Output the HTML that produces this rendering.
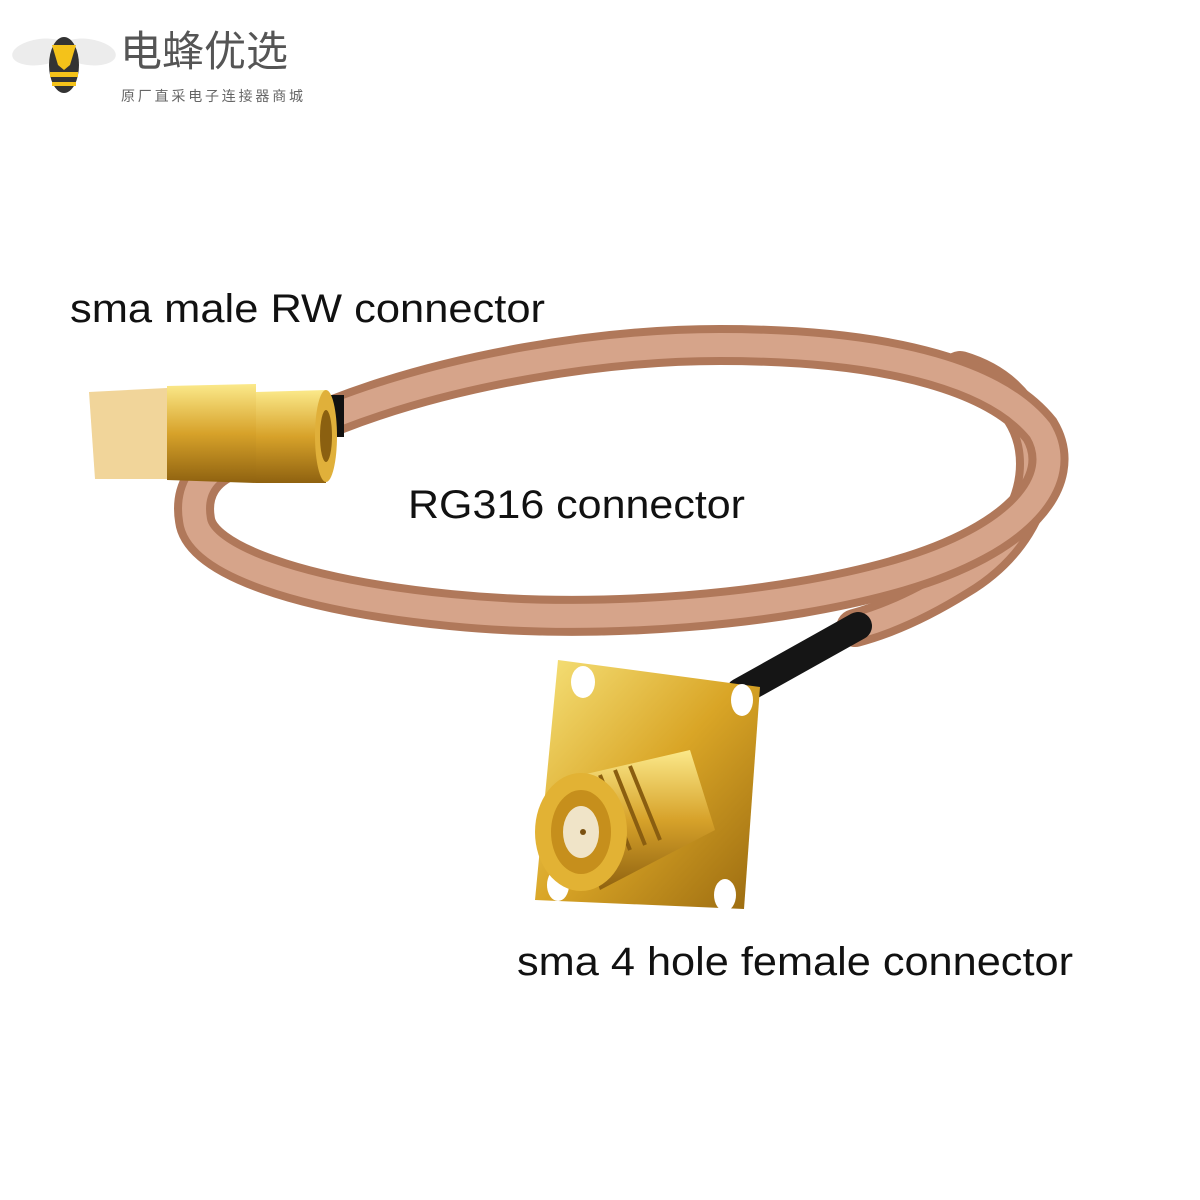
<!DOCTYPE html>
<html><head><meta charset="utf-8"><style>
body{margin:0;background:#fff;}
svg{display:block}
text{font-family:"Liberation Sans","Noto Sans CJK SC",sans-serif}
</style></head><body>
<svg width="1200" height="1200" viewBox="0 0 1200 1200" xmlns="http://www.w3.org/2000/svg">
<defs>
<linearGradient id="gold" x1="0" y1="0" x2="1" y2="1">
<stop offset="0" stop-color="#f6e27a"/><stop offset="0.5" stop-color="#d9a526"/><stop offset="1" stop-color="#9a6a10"/></linearGradient>
<linearGradient id="goldv" x1="0" y1="0" x2="0" y2="1">
<stop offset="0" stop-color="#fbe98a"/><stop offset="0.5" stop-color="#d7a22a"/><stop offset="1" stop-color="#8f6210"/></linearGradient>
</defs>
<!-- logo -->
<ellipse cx="40" cy="52" rx="28" ry="13" fill="#ececec" transform="rotate(-8 40 52)"/>
<ellipse cx="88" cy="52" rx="28" ry="13" fill="#ececec" transform="rotate(8 88 52)"/>
<ellipse cx="64" cy="65" rx="15" ry="28" fill="#333"/>
<path d="M52 45 L76 45 L70 65 L64 70 L58 65Z" fill="#f4c21a"/>
<rect x="50" y="72" width="28" height="5" fill="#f4c21a"/>
<rect x="52" y="82" width="24" height="4" fill="#f4c21a"/>
<text x="120" y="66" font-size="42" fill="#555">电蜂优选</text>
<text x="121" y="101" font-size="14" fill="#666" textLength="182">原厂直采电子连接器商城</text>
<!-- cables -->
<g fill="none" stroke-linecap="round">
<path d="M960,370 C1060,400 1060,520 960,580 C920,605 885,620 855,628" stroke="#b0785a" stroke-width="38"/>
<path d="M960,370 C1060,400 1060,520 960,580 C920,605 885,620 855,628" stroke="#d6a48a" stroke-width="22"/>
<path d="M858,626 L740,692" stroke="#151515" stroke-width="28"/>
<path d="M335,415 C450,370 600,345 720,345 C900,345 1000,380 1040,430 C1070,480 1020,540 900,575 C780,610 600,625 450,610 C300,595 200,560 195,520 C190,490 205,470 230,460" stroke="#b0785a" stroke-width="40"/>
<path d="M335,415 C450,370 600,345 720,345 C900,345 1000,380 1040,430 C1070,480 1020,540 900,575 C780,610 600,625 450,610 C300,595 200,560 195,520 C190,490 205,470 230,460" stroke="#d6a48a" stroke-width="24"/>
</g>
<!-- labels -->
<text x="70" y="322" font-size="40" fill="#111" textLength="475" lengthAdjust="spacingAndGlyphs">sma male RW connector</text>
<text x="408" y="518" font-size="40" fill="#111" textLength="337" lengthAdjust="spacingAndGlyphs">RG316 connector</text>
<text x="517" y="975" font-size="40" fill="#111" textLength="556" lengthAdjust="spacingAndGlyphs">sma 4 hole female connector</text>
<!-- male connector -->
<rect x="322" y="395" width="22" height="42" fill="#111"/>
<path d="M89 392 L167 388 L167 479 L95 479Z" fill="#f1d59a"/>
<path d="M167 386 L256 384 L256 483 L167 480Z" fill="url(#goldv)"/>
<path d="M256 392 L326 390 L326 483 L256 483Z" fill="url(#goldv)"/>
<ellipse cx="326" cy="436" rx="11" ry="46" fill="#e0b03a"/>
<ellipse cx="326" cy="436" rx="6" ry="26" fill="#8b6010"/>
<!-- flange -->
<path d="M558,660 L760,687 L744,909 L535,900Z" fill="url(#gold)"/>
<ellipse cx="583" cy="682" rx="12" ry="16" fill="#fff"/>
<ellipse cx="742" cy="700" rx="11" ry="16" fill="#fff"/>
<ellipse cx="558" cy="885" rx="11" ry="16" fill="#fff"/>
<ellipse cx="725" cy="895" rx="11" ry="16" fill="#fff"/>
<!-- barrel -->
<path d="M560 780 L690 750 L715 830 L600 890Z" fill="url(#goldv)"/>
<g stroke="#8a5e10" stroke-width="4">
<line x1="600" y1="775" x2="630" y2="850"/><line x1="615" y1="770" x2="645" y2="845"/><line x1="630" y1="766" x2="660" y2="840"/>
</g>
<ellipse cx="581" cy="832" rx="46" ry="59" fill="#e2b234"/>
<ellipse cx="581" cy="832" rx="30" ry="42" fill="#c68f1c"/>
<ellipse cx="581" cy="832" rx="18" ry="26" fill="#f0e4c8"/>
<circle cx="583" cy="832" r="3" fill="#7a5010"/>
</svg>
</body></html>
